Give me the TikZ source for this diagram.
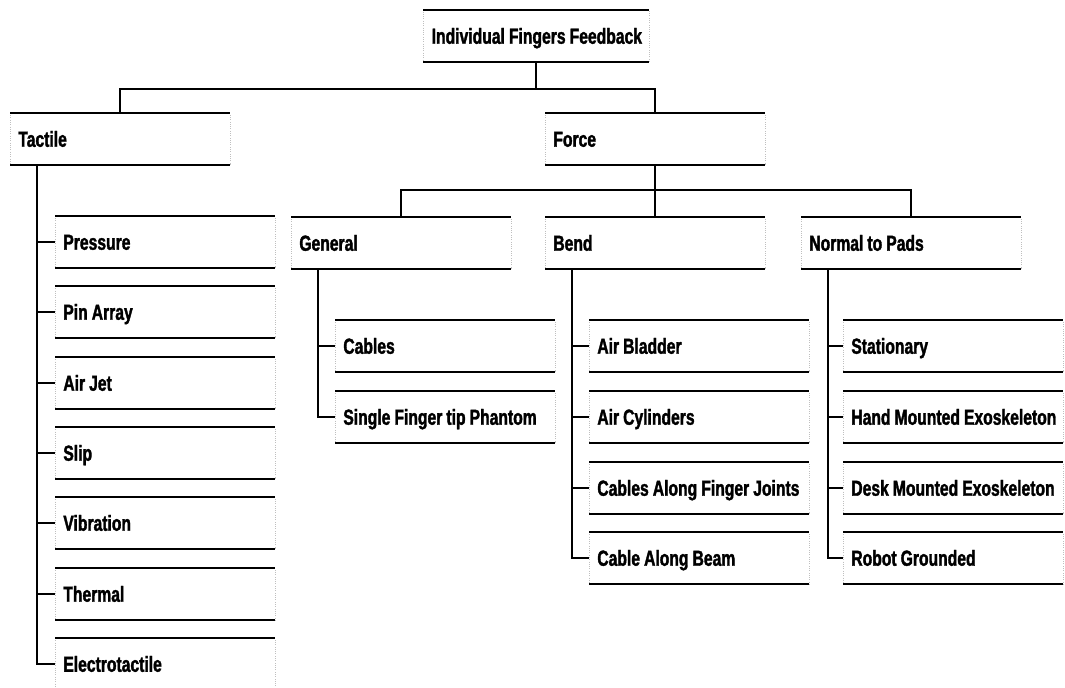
\documentclass[tikz,border=0pt]{standalone}
\usepackage{fontspec}
\newfontfamily\treefont{Liberation Sans}[FakeStretch=0.72,FakeBold=1.6]

\tikzset{
  box/.style={draw=black!25, densely dotted, line width=0.3pt, anchor=north west,
    minimum width=4.4cm, minimum height=1.03cm, text width=116pt, inner xsep=4.5pt,
    align=left, text height=8.8pt, text depth=0pt,
    execute at begin node={\spaceskip=2.3pt\relax\hbox\bgroup}, execute at end node=\egroup,
    font=\treefont\bfseries\fontsize{12.4}{14}\selectfont},
  rule/.style={line width=1.2pt, solid, black},
  link/.style={line width=1.2pt}
}

\begin{document}
\begin{tikzpicture}[x=0.02cm,y=-0.02cm]
\useasboundingbox (0,0) rectangle (1065,687);
% top levels
\node[box, text width=119pt, minimum width=4.52cm] (root) at (423,10) {Individual Fingers Feedback};
\node[box] (tactile) at (10,113) {Tactile};
\node[box] (force) at (545,113) {Force};
\node[box] (general) at (291,217) {General};
\node[box] (bend) at (545,217) {Bend};
\node[box] (normal) at (801,217) {Normal to Pads};
% tactile leaves
\node[box] (pressure) at (55,216) {Pressure};
\node[box] (pinarray) at (55,286) {Pin Array};
\node[box] (airjet) at (55,357) {Air Jet};
\node[box] (slip) at (55,427) {Slip};
\node[box] (vibration) at (55,497) {Vibration};
\node[box] (thermal) at (55,568) {Thermal};
\node[box] (electro) at (55,638) {Electrotactile};
% general leaves
\node[box] (cables) at (335,320) {Cables};
\node[box] (phantom) at (335,391) {Single Finger tip Phantom};
% bend leaves
\node[box] (bladder) at (589,320) {Air Bladder};
\node[box] (cylinders) at (589,391) {Air Cylinders};
\node[box] (joints) at (589,462) {Cables Along Finger Joints};
\node[box] (beam) at (589,532) {Cable Along Beam};
% normal to pads leaves
\node[box] (stationary) at (843,320) {Stationary};
\node[box] (handexo) at (843,391) {Hand Mounted Exoskeleton};
\node[box] (deskexo) at (843,462) {Desk Mounted Exoskeleton};
\node[box] (robot) at (843,532) {Robot Grounded};

% thick rules above and below each box
\foreach \n in {root,tactile,force,general,bend,normal,pressure,pinarray,airjet,slip,vibration,thermal,
  cables,phantom,bladder,cylinders,joints,beam,stationary,handexo,deskexo,robot}
  \draw[rule] (\n.north west) -- (\n.north east) (\n.south west) -- (\n.south east);
\draw[rule] (electro.north west) -- (electro.north east);

% tree links
\draw[link] (root.south) -- ++(0,27) -| (tactile.north);
\draw[link] (root.south) ++(0,27) -| (force.north);
\draw[link] (force.south) -- (bend.north);
\draw[link] (general.north) |- ++(0,-27) -| (normal.north);
\foreach \n in {pressure,pinarray,airjet,slip,vibration,thermal,electro}
  \draw[link] ([xshift=0.54cm]tactile.south west) |- (\n.west);
\foreach \n in {cables,phantom}
  \draw[link] ([xshift=0.54cm]general.south west) |- (\n.west);
\foreach \n in {bladder,cylinders,joints,beam}
  \draw[link] ([xshift=0.54cm]bend.south west) |- (\n.west);
\foreach \n in {stationary,handexo,deskexo,robot}
  \draw[link] ([xshift=0.54cm]normal.south west) |- (\n.west);
\end{tikzpicture}
\end{document}
